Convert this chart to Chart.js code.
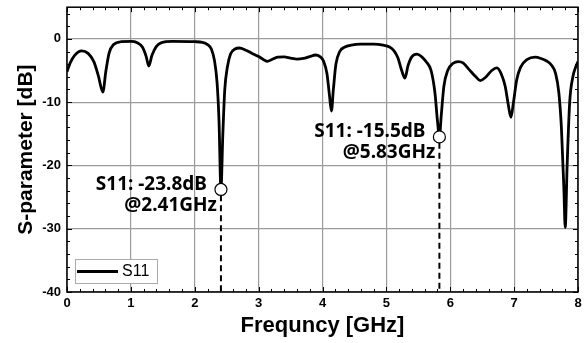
<!DOCTYPE html>
<html>
<head>
<meta charset="utf-8">
<script src="https://cdn.jsdelivr.net/npm/chart.js@4.4.0/dist/chart.umd.min.js"></script>
<style>
html, body { margin: 0; padding: 0; background: #fff; }
#wrap { width: 588px; height: 343px; }
</style>
</head>
<body>
<div id="wrap"><canvas id="c" width="588" height="343"></canvas></div>
<script>
// S11 sweep
const freq = [0.00, 0.05, 0.12, 0.23, 0.33, 0.42, 0.49, 0.56, 0.61, 0.66, 0.73, 0.85, 1.00, 1.10, 1.18, 1.24, 1.28, 1.33, 1.40, 1.48, 1.65,
    2.00, 2.12, 2.20, 2.26, 2.31, 2.35, 2.38, 2.41, 2.44, 2.47, 2.51, 2.56, 2.63, 2.70, 2.80, 2.90, 3.00, 3.08, 3.14, 3.20, 3.30, 3.40,
    3.50, 3.60, 3.70, 3.80, 3.89, 3.96, 4.02, 4.07, 4.11, 4.14, 4.17, 4.21, 4.27, 4.35, 4.45, 4.60, 4.80, 4.95, 5.05, 5.12, 5.18, 5.24,
    5.29, 5.34, 5.40, 5.48, 5.55, 5.63, 5.70, 5.76, 5.80, 5.83, 5.86, 5.90, 5.96, 6.04, 6.13, 6.20, 6.30, 6.40, 6.47, 6.55, 6.65, 6.73,
    6.80, 6.86, 6.91, 6.95, 6.99, 7.04, 7.10, 7.20, 7.33, 7.42, 7.51, 7.58, 7.65, 7.70, 7.74, 7.78, 7.80, 7.83, 7.87, 7.92, 7.97, 8.00];
const s11 = [-5.2, -3.8, -2.6, -1.9, -2.3, -3.6, -5.8, -8.4, -5.0, -2.2, -0.9, -0.45, -0.4, -0.6, -1.3, -2.8, -4.3, -2.6, -1.2, -0.6, -0.4,
    -0.45, -0.55, -0.9, -1.6, -3.5, -7.0, -13.0, -23.8, -15.0, -8.0, -4.5, -2.4, -1.6, -1.45, -1.8, -2.3, -2.8, -3.3, -3.55, -3.3, -2.9, -2.85,
    -3.05, -3.2, -3.1, -2.8, -2.55, -2.8, -3.6, -5.5, -9.0, -11.4, -8.0, -4.0, -2.0, -1.3, -1.0, -0.85, -0.85, -1.0, -1.3, -1.9, -3.0, -5.0,
    -6.2, -4.2, -2.8, -2.4, -2.8, -3.7, -5.0, -8.5, -13.0, -15.5, -12.0, -7.5, -5.0, -3.9, -3.6, -3.8, -4.9, -6.0, -6.6, -6.1, -5.0, -4.6,
    -5.6, -7.5, -10.5, -12.4, -10.0, -6.5, -4.5, -3.3, -2.9, -3.1, -3.5, -4.1, -5.5, -8.5, -14.0, -24.0, -29.8, -20.0, -10.0, -6.0, -4.3, -3.6];

const markFreq = [2.41, 5.83];
const markDb = [-23.8, -15.5];
const markLine1 = ['S11: -23.8dB', 'S11: -15.5dB'];
const markLine2 = ['@2.41GHz', '@5.83GHz'];

const xMin = 0, xMax = 8, xStep = 1, xMinor = 0.2;
const yMin = -40, yMax = 5, yStep = 10, yMinor = 2;

const curve = freq.map((f, i) => ({ x: f, y: s11[i] }));
const marks = markFreq.map((f, i) => ({ x: f, y: markDb[i] }));
const dashSets = markFreq.map((f, i) => ({
    label: 'dash' + i,
    data: [{ x: f, y: markDb[i] - 0.9 }, { x: f, y: yMin }],
    borderColor: '#000', borderWidth: 2, borderDash: [6, 4],
    pointRadius: 0, showLine: true, fill: false,
}));

const tickFont = { family: 'Liberation Sans', size: 13, weight: 'bold' };

const frame = {
    id: 'frame',
    afterDatasetsDraw(chart) {
        const { ctx, chartArea: a, scales: { x, y } } = chart;
        ctx.save();
        ctx.strokeStyle = '#000';
        ctx.lineWidth = 1;
        // inward ticks on all four sides
        for (let v = xMin; v <= xMax + 1e-6; v += xMinor) {
            const px = Math.round(x.getPixelForValue(v)) + 0.5;
            const major = Math.abs(v - Math.round(v)) < 1e-6;
            const len = major ? 5 : 3;
            ctx.beginPath();
            ctx.moveTo(px, a.bottom); ctx.lineTo(px, a.bottom - len);
            ctx.moveTo(px, a.top); ctx.lineTo(px, a.top + len);
            ctx.stroke();
        }
        for (let v = yMin; v <= yMax + 1e-6; v += yMinor) {
            const py = Math.round(y.getPixelForValue(v)) + 0.5;
            const major = v % yStep === 0;
            const len = major ? 5 : 3;
            ctx.beginPath();
            ctx.moveTo(a.left, py); ctx.lineTo(a.left + len, py);
            ctx.moveTo(a.right, py); ctx.lineTo(a.right - len, py);
            ctx.stroke();
        }
        ctx.lineWidth = 1.5;
        ctx.strokeRect(a.left, a.top, a.right - a.left, a.bottom - a.top);

        // marker labels
        ctx.fillStyle = '#000';
        ctx.font = 'bold 19px "Noto Sans"';
        ctx.textBaseline = 'middle';
        ctx.textAlign = 'right';
        markFreq.forEach((f, i) => {
            const px = x.getPixelForValue(f);
            const py = y.getPixelForValue(markDb[i]);
            ctx.fillText(markLine1[i], px - 14, py - 5);
            ctx.fillText(markLine2[i], px - 4, py + 16);
        });

        // legend box
        const lx = a.left + 8, ly = a.bottom - 33;
        ctx.fillStyle = '#fff';
        ctx.fillRect(lx, ly, 82, 24);
        ctx.strokeStyle = '#aaa';
        ctx.lineWidth = 1;
        ctx.strokeRect(lx + 0.5, ly + 0.5, 82, 24);
        ctx.strokeStyle = '#000';
        ctx.lineWidth = 3;
        ctx.beginPath();
        ctx.moveTo(lx + 2, ly + 12.5); ctx.lineTo(lx + 43, ly + 12.5);
        ctx.stroke();
        ctx.fillStyle = '#000';
        ctx.font = '16px "Liberation Sans"';
        ctx.textAlign = 'left';
        ctx.fillText(chart.data.datasets[1].label, lx + 47, ly + 13);
        ctx.restore();
    },
};

new Chart(document.getElementById('c'), {
    type: 'scatter',
    data: {
        datasets: [
            { label: 'marks', data: marks, showLine: false, pointRadius: 6, pointHoverRadius: 6,
              pointBackgroundColor: '#fff', pointBorderColor: '#000', pointBorderWidth: 1.2 },
            { label: 'S11', data: curve, showLine: true, borderColor: '#000', borderWidth: 2.8,
              pointRadius: 0, cubicInterpolationMode: 'monotone', fill: false },
            ...dashSets,
        ],
    },
    options: {
        responsive: false,
        animation: false,
        events: [],
        layout: { padding: { top: 6, right: 10, left: 0, bottom: 0 } },
        plugins: { legend: { display: false }, tooltip: { enabled: false } },
        scales: {
            x: {
                type: 'linear', min: xMin, max: xMax,
                ticks: { stepSize: xStep, color: '#000', font: tickFont, padding: 4, maxRotation: 0 },
                grid: { color: 'rgb(155,155,155)', lineWidth: 1.2, drawTicks: false },
                border: { display: false },
                title: { display: true, text: 'Frequncy [GHz]', color: '#000',
                         font: { family: 'Liberation Sans', size: 22, weight: 'bold' }, padding: { top: 0, bottom: 4 } },
                afterFit(s) { s.height = 51; s.paddingLeft = 0; s.paddingRight = 0; },
            },
            y: {
                type: 'linear', min: yMin, max: yMax,
                afterBuildTicks(s) { s.ticks = s.ticks.filter(t => t.value % yStep === 0 && t.value <= 0); },
                ticks: { stepSize: yStep, color: '#000', font: tickFont, padding: 6 },
                grid: { color: 'rgb(155,155,155)', lineWidth: 1.2, drawTicks: false },
                border: { display: false },
                title: { display: true, text: 'S-parameter [dB]', color: '#000',
                         font: { family: 'Liberation Sans', size: 21, weight: 'bold' }, padding: { top: 14, bottom: 0 } },
                afterFit(s) { s.width = 67; s.paddingTop = 0; s.paddingBottom = 0; },
            },
        },
    },
    plugins: [frame],
});
</script>
</body>
</html>
